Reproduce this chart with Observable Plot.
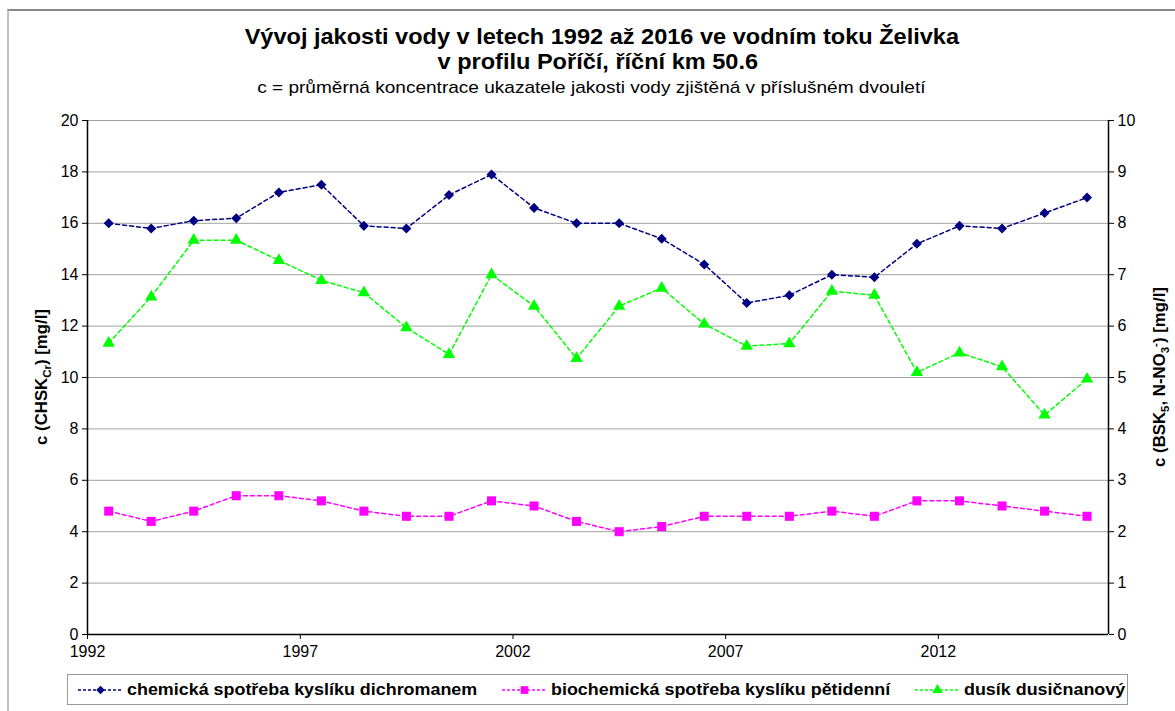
<!DOCTYPE html>
<html><head><meta charset="utf-8">
<script src="https://cdn.jsdelivr.net/npm/d3@7"></script>
<script src="https://cdn.jsdelivr.net/npm/@observablehq/plot@0.6"></script>
<style>
body{margin:0;background:#fff;font-family:"Liberation Sans",Arial,sans-serif;width:1175px;height:711px;overflow:hidden;position:relative;}
#frame{position:absolute;left:7px;top:9px;width:1300px;height:900px;border-top:2px solid #888;border-left:2px solid #c0c0c0;}
.ctr{position:absolute;left:0;text-align:center;color:#000;white-space:nowrap;}
.ctr span{display:inline-block;transform-origin:50% 50%;}
#t1{width:1204px;top:24px;font-weight:bold;font-size:22px;line-height:25px;}
#t2{width:1196px;top:49px;font-weight:bold;font-size:22px;line-height:25px;}
#t1 span,#t2 span{transform:scaleX(1.07);}
#sub{width:1182px;top:78px;font-size:17px;line-height:20px;}
#sub span{transform:scaleX(1.12);}
#chart{position:absolute;left:0;top:100px;}
#legend{position:absolute;left:67px;top:674px;width:1059px;height:29px;border:1px solid #999;background:#fff;}
.li{position:absolute;top:0;height:29px;display:flex;align-items:center;font-weight:bold;font-size:16.5px;white-space:nowrap;}
.li svg{margin-right:4px;}
.li span{display:inline-block;transform-origin:0 50%;transform:scaleX(1.085);}
</style>
</head><body>
<div id="frame"></div>
<div id="t1" class="ctr"><span>Vývoj jakosti vody v letech 1992 až 2016 ve vodním toku Želivka</span></div>
<div id="t2" class="ctr"><span>v profilu Poříčí, říční km 50.6</span></div>
<div id="sub" class="ctr"><span>c = průměrná koncentrace ukazatele jakosti vody zjištěná v příslušném dvouletí</span></div>
<div id="chart"></div>
<div id="legend"></div>
<script>
// ---- data ----
const years = [1992,1993,1994,1995,1996,1997,1998,1999,2000,2001,2002,2003,2004,2005,2006,2007,2008,2009,2010,2011,2012,2013,2014,2015];
// chemická spotřeba kyslíku dichromanem (left axis, mg/l)
const chsk = [16.0,15.8,16.1,16.2,17.2,17.5,15.9,15.8,17.1,17.9,16.6,16.0,16.0,15.4,14.4,12.9,13.2,14.0,13.9,15.2,15.9,15.8,16.4,17.0];
// biochemická spotřeba kyslíku pětidenní (right axis, mg/l)
const bsk = [2.4,2.2,2.4,2.7,2.7,2.6,2.4,2.3,2.3,2.6,2.5,2.2,2.0,2.1,2.3,2.3,2.3,2.4,2.3,2.6,2.6,2.5,2.4,2.3];
// dusík dusičnanový (right axis, mg/l)
const nitrate = [5.67,6.57,7.67,7.67,7.28,6.89,6.65,5.97,5.45,7.0,6.39,5.37,6.39,6.74,6.04,5.61,5.66,6.68,6.6,5.1,5.48,5.21,4.27,4.97];
const seriesNames = ["chemická spotřeba kyslíku dichromanem","biochemická spotřeba kyslíku pětidenní","dusík dusičnanový"];
const leftTicks = [0,2,4,6,8,10,12,14,16,18,20];
const xTickYears = [1992,1997,2002,2007,2012];
const xDomainYears = [1992,2016];

// ---- build ----
const diamond = {draw(ctx, size){const h=Math.sqrt(size/2);ctx.moveTo(0,-h);ctx.lineTo(h,0);ctx.lineTo(0,h);ctx.lineTo(-h,0);ctx.closePath();}};
const midYear = y => new Date(Date.UTC(y,6,1));
const jan = y => new Date(Date.UTC(y,0,1));
const RIGHT_FACTOR = 20/10; // right axis 0-10 mapped onto left 0-20

const defs = [
  {name: seriesNames[0], values: chsk, k: 1, color: "#000080", symbol: diamond, r: 4},
  {name: seriesNames[1], values: bsk, k: RIGHT_FACTOR, color: "#ff00ff", symbol: "square", r: 5.1},
  {name: seriesNames[2], values: nitrate, k: RIGHT_FACTOR, color: "#00ff00", symbol: "triangle", r: 4.6}
];
const rows = defs.flatMap(d => d.values.map((v,i) => ({date: midYear(years[i]), y: v*d.k, s: d.name})));

const marks = [
  Plot.gridY(leftTicks.filter(t=>t>0), {stroke:"#a0a0a0", strokeOpacity:1, strokeWidth:1}),
  Plot.ruleY([0], {stroke:"#000", strokeWidth:1.5}),
  Plot.ruleX([jan(xDomainYears[0])], {stroke:"#000", strokeWidth:1.5}),
  Plot.ruleX([jan(xDomainYears[1])], {stroke:"#000", strokeWidth:1.5}),
  Plot.axisY(leftTicks, {anchor:"left", tickSize:5, tickPadding:4, label:null, fontSize:16}),
  Plot.axisY(leftTicks, {anchor:"right", tickSize:5, tickPadding:4, label:null, fontSize:16, tickFormat: d => d/RIGHT_FACTOR}),
  Plot.axisX(xTickYears.map(jan), {anchor:"bottom", tickSize:5, tickPadding:6, label:null, fontSize:16, tickFormat: d3.utcFormat("%Y")})
];
for (const d of defs) {
  const data = rows.filter(r => r.s === d.name);
  marks.push(Plot.line(data, {x:"date", y:"y", stroke:d.color, strokeWidth:1.5, strokeDasharray:"4,3"}));
  marks.push(Plot.dot(data, {x:"date", y:"y", fill:d.color, stroke:"none", symbol: d.symbol, r: d.r}));
}

const chart = Plot.plot({
  width: 1175, height: 570,
  marginTop: 20, marginBottom: 36, marginLeft: 87, marginRight: 67,
  style: {fontFamily: '"Liberation Sans", Arial, sans-serif', color:"#000", background:"transparent", overflow:"visible"},
  x: {type:"utc", domain: xDomainYears.map(jan)},
  y: {domain: [0,20]},
  marks
});
document.getElementById("chart").appendChild(chart);

// axis titles with subscripts
const svg = d3.select(chart);
function axisTitle(x, cy, parts){
  const t = svg.append("text").attr("transform", `translate(${x},${cy}) rotate(-90)`)
    .attr("text-anchor","middle").attr("font-weight","bold").attr("font-size",16.8).attr("fill","#000");
  for (const p of parts){
    const ts = t.append("tspan").text(p.t);
    if (p.sub) ts.attr("font-size",11.5).attr("dy",4);
    if (p.sup) ts.attr("font-size",11.5).attr("dy",-10);
    if (p.back) ts.attr("dy",p.back);
  }
}
axisTitle(47, 277, [{t:"c (CHSK"},{t:"Cr",sub:true},{t:") [mg/l]",back:-4}]);
axisTitle(1165, 277, [{t:"c (BSK"},{t:"5",sub:true},{t:", N-NO",back:-4},{t:"3",sub:true},{t:"-",sup:true},{t:") [mg/l]",back:6}]);

// legend
const legend = d3.select("#legend");
const lx = [10, 434, 847];
defs.forEach((d,i) => {
  const item = legend.append("div").attr("class","li").style("left", lx[i]+"px");
  const s = item.append("svg").attr("width",45).attr("height",14);
  s.append("line").attr("x1",0).attr("x2",45).attr("y1",7).attr("y2",7).attr("stroke",d.color).attr("stroke-width",1.5).attr("stroke-dasharray","3,2");
  const sym = d.symbol === diamond ? diamond : (d.symbol === "square" ? d3.symbolSquare : d3.symbolTriangle);
  s.append("path").attr("transform","translate(22.5,7)").attr("d", d3.symbol(sym, Math.PI*(d.r*0.85)**2)()).attr("fill",d.color);
  item.append("span").text(d.name);
});
</script>
</body></html>
